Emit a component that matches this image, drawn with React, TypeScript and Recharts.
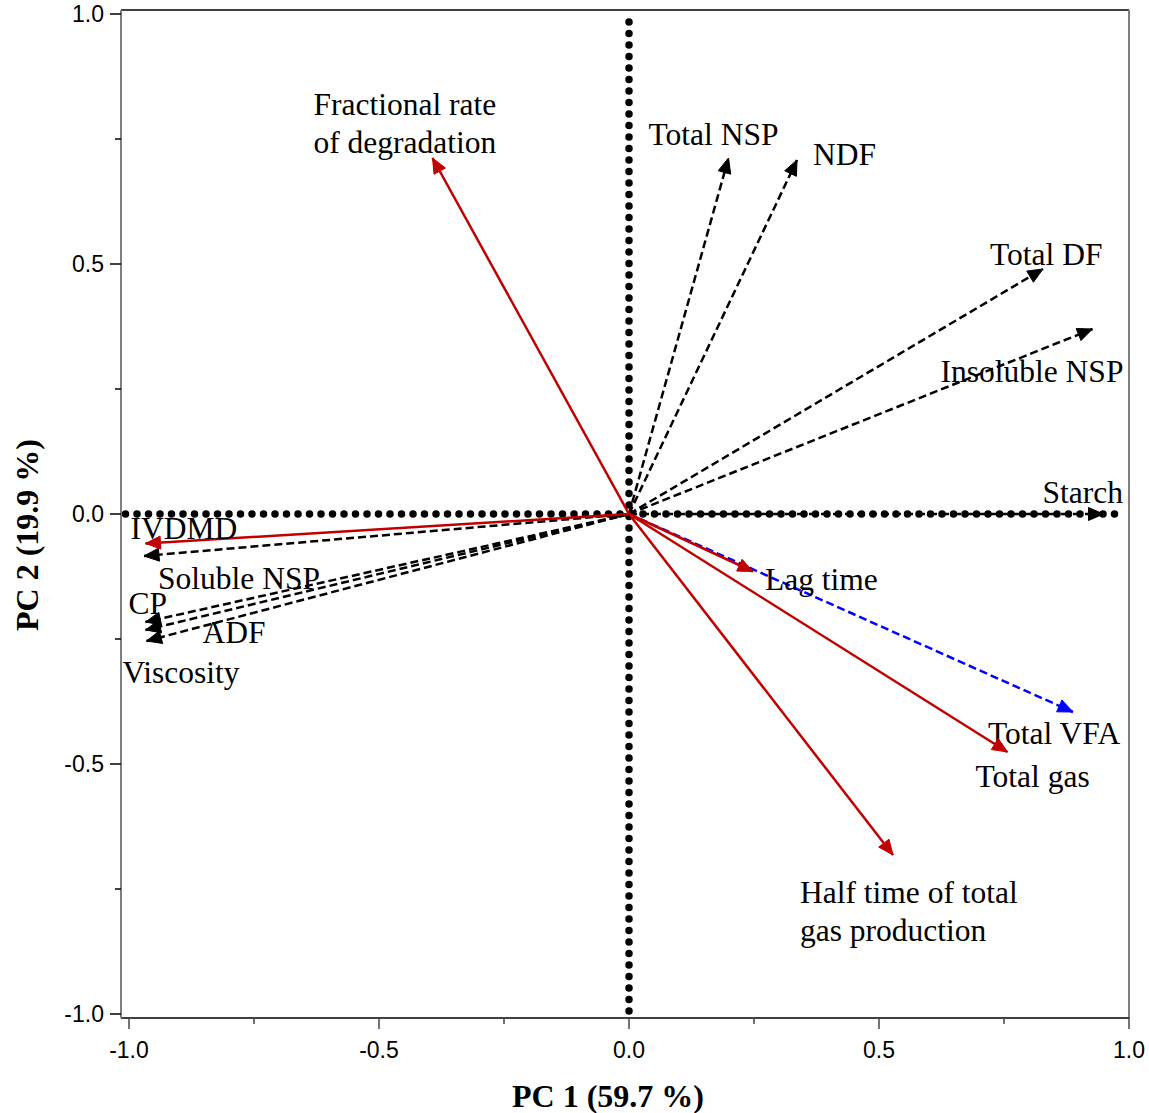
import { LineChart, Line, XAxis, YAxis, ReferenceLine } from 'recharts';

// PCA loadings
const variables = [
  'IVDMD',
  'Soluble NSP',
  'CP',
  'ADF',
  'Viscosity',
  'Total NSP',
  'NDF',
  'Total DF',
  'Insoluble NSP',
  'Starch',
  'Total VFA',
  'Fractional rate of degradation',
  'Lag time',
  'Total gas',
  'Half time of total gas production',
];
const pc1 = [-0.967, -0.97, -0.967, -0.967, -0.965, 0.199, 0.336, 0.828, 0.927, 0.949, 0.888, -0.393, 0.248, 0.757, 0.528];
const pc2 = [-0.059, -0.084, -0.216, -0.232, -0.254, 0.712, 0.708, 0.49, 0.37, 0.0, -0.396, 0.712, -0.115, -0.476, -0.682];
const groups = ['red', 'black', 'black', 'black', 'black', 'black', 'black', 'black', 'black', 'black', 'blue', 'red', 'red', 'red', 'red'];

const axisTicks = [-1, -0.75, -0.5, -0.25, 0, 0.25, 0.5, 0.75, 1];
// dotted zero lines
const zeroLineX = [-1.007, 0.977];
const zeroLineY = [0.984, -0.996];

const X_DOMAIN: [number, number] = [-1.016, 1];
const Y_DOMAIN: [number, number] = [-1.008, 1.008];

const groupStyle: Record<string, { color: string; dash?: string; order: number }> = {
  black: { color: '#000000', dash: '8 4', order: 0 },
  blue: { color: '#0000ff', dash: '8 4', order: 1 },
  red: { color: '#c00000', order: 2 },
};

// label placement relative to the arrow tip (px): dx to text start, dy to baseline
const labelPlace: Record<string, { dx: number; dy: number; lines?: string[] }> = {
  IVDMD: { dx: -15, dy: -5 },
  'Soluble NSP': { dx: 14, dy: 33 },
  CP: { dx: -17, dy: -8 },
  ADF: { dx: 57, dy: 13 },
  Viscosity: { dx: -24, dy: 42 },
  'Total NSP': { dx: -80, dy: -13 },
  NDF: { dx: 16, dy: 5 },
  'Total DF': { dx: -53, dy: -4 },
  'Insoluble NSP': { dx: -152, dy: 53 },
  Starch: { dx: -61, dy: -11 },
  'Total VFA': { dx: -85, dy: 32 },
  'Fractional rate of degradation': { dx: -119, dy: -43, lines: ['Fractional rate', 'of degradation'] },
  'Lag time': { dx: 12, dy: 18 },
  'Total gas': { dx: -32, dy: 35 },
  'Half time of total gas production': { dx: -93, dy: 48, lines: ['Half time of total', 'gas production'] },
};

const SERIF = '"Liberation Serif", "Times New Roman", serif';
const SANS = '"Liberation Sans", Arial, sans-serif';

const isMajor = (v: number) => Math.abs(v * 2 - Math.round(v * 2)) < 1e-6;

const BottomTick = (props: any) => {
  const { x, y, payload } = props;
  const major = isMajor(payload.value);
  return (
    <g>
      <line x1={x} y1={y} x2={x} y2={y + (major ? 11 : 6)} stroke="#444" strokeWidth={1.5} />
      {major && (
        <text x={x} y={y + 40} textAnchor="middle" fontFamily={SANS} fontSize={23} fill="#000">
          {payload.value.toFixed(1)}
        </text>
      )}
    </g>
  );
};

const LeftTick = (props: any) => {
  const { x, y, payload } = props;
  const major = isMajor(payload.value);
  return (
    <g>
      <line x1={x} y1={y} x2={x - (major ? 11 : 6)} y2={y} stroke="#000" strokeWidth={1.5} />
      {major && (
        <text x={x - 17} y={y + 8} textAnchor="end" fontFamily={SANS} fontSize={23} fill="#000">
          {payload.value.toFixed(1)}
        </text>
      )}
    </g>
  );
};

const makeArrowDot = (name: string, color: string) => (props: any) => {
  const { cx, cy, index, payload } = props;
  if (index !== 1 || cx == null) return <g key={`${name}-d${index}`} />;
  const ang = Math.atan2(-payload.y, payload.x);
  const c = Math.cos(ang);
  const s = Math.sin(ang);
  const L = 15;
  const W = 6.5;
  const bx = cx - L * c;
  const by = cy - L * s;
  const pts = `${cx},${cy} ${bx - W * s},${by + W * c} ${bx + W * s},${by - W * c}`;
  const place = labelPlace[name] || { dx: 5, dy: 0 };
  const lines = place.lines || [name];
  return (
    <g key={`${name}-d${index}`}>
      <polygon points={pts} fill={color} stroke={color} strokeWidth={1} />
      <text x={cx + place.dx} y={cy + place.dy} fontFamily={SERIF} fontSize={31.5} fill="#000">
        {lines.map((ln, k) => (
          <tspan key={k} x={cx + place.dx} dy={k === 0 ? 0 : 38}>
            {ln}
          </tspan>
        ))}
      </text>
    </g>
  );
};

const order = variables
  .map((_, i) => i)
  .sort((a, b) => groupStyle[groups[a]].order - groupStyle[groups[b]].order);

export default function App() {
  return (
    <div style={{ position: 'absolute', left: 0, top: 0, background: '#fff' }}>
      <LineChart width={1149} height={1113} margin={{ top: 10, right: 20, bottom: 0, left: 0 }}>
        <XAxis
          type="number"
          dataKey="x"
          domain={X_DOMAIN}
          ticks={axisTicks}
          interval={0}
          allowDataOverflow
          height={95}
          tickSize={0}
          tickMargin={0}
          tickLine={false}
          axisLine={{ stroke: '#000', strokeWidth: 1.5 }}
          tick={<BottomTick />}
          label={(p: any) => {
            const vb = p.viewBox || { x: 121, y: 1018, width: 1008, height: 95 };
            return (
              <text x={vb.x + vb.width / 2 - 17} y={1107} textAnchor="middle" fontFamily={SERIF} fontWeight="bold" fontSize={32} fill="#000">
                PC 1 (59.7 %)
              </text>
            );
          }}
        />
        <YAxis
          type="number"
          dataKey="y"
          domain={Y_DOMAIN}
          ticks={axisTicks}
          interval={0}
          allowDataOverflow
          width={121}
          tickSize={0}
          tickMargin={0}
          tickLine={false}
          axisLine={{ stroke: '#7f7f7f', strokeWidth: 2 }}
          tick={<LeftTick />}
          label={() => (
            <text x={38} y={535} transform="rotate(-90 38 535)" textAnchor="middle" fontFamily={SERIF} fontWeight="bold" fontSize={32} fill="#000">
              PC 2 (19.9 %)
            </text>
          )}
        />
        <ReferenceLine y={Y_DOMAIN[1]} stroke="#000" strokeWidth={1.5} />
        <ReferenceLine x={X_DOMAIN[1]} stroke="#7f7f7f" strokeWidth={2} />

        <Line
          data={zeroLineX.map((x) => ({ x, y: 0 }))}
          dataKey="y"
          stroke="#000"
          strokeWidth={7.5}
          strokeDasharray="0 11.5"
          strokeLinecap="round"
          dot={false}
          activeDot={false}
          isAnimationActive={false}
        />
        <Line
          data={zeroLineY.map((y) => ({ x: 0, y }))}
          dataKey="y"
          stroke="#000"
          strokeWidth={7.5}
          strokeDasharray="0 11.5"
          strokeLinecap="round"
          dot={false}
          activeDot={false}
          isAnimationActive={false}
        />

        {order.map((i) => {
          const name = variables[i];
          const st = groupStyle[groups[i]];
          return (
            <Line
              key={name}
              name={name}
              data={[
                { x: 0, y: 0 },
                { x: pc1[i], y: pc2[i] },
              ]}
              dataKey="y"
              stroke={st.color}
              strokeWidth={2.5}
              strokeDasharray={st.dash}
              dot={makeArrowDot(name, st.color)}
              activeDot={false}
              isAnimationActive={false}
            />
          );
        })}
      </LineChart>
    </div>
  );
}
